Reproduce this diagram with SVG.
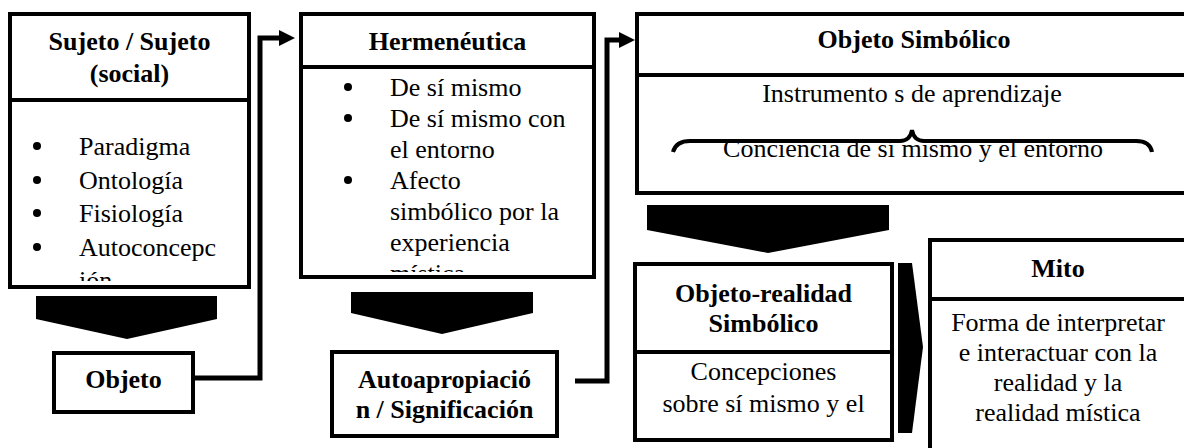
<svg xmlns="http://www.w3.org/2000/svg" width="1184" height="448" viewBox="0 0 1184 448">
<style>
.box{fill:#fff;stroke:#000;stroke-width:4}
.div{stroke:#000;stroke-width:4}
.h{font-family:"Liberation Serif","Times New Roman",serif;font-size:26px;font-weight:bold;fill:#000;text-anchor:middle}
.t{font-family:"Liberation Serif","Times New Roman",serif;font-size:26px;fill:#000}
.c{text-anchor:middle}
.conn{fill:none;stroke:#000;stroke-width:5;stroke-linejoin:miter}
.chev{fill:#000}
.brace{fill:none;stroke:#000;stroke-width:4}
</style>
<defs>
<marker id="arr" markerUnits="userSpaceOnUse" markerWidth="16" markerHeight="16" viewBox="0 0 16 16" refX="0" refY="8" orient="auto">
<path d="M0,0 L16,8 L0,16 z" fill="#000"/>
</marker>
<clipPath id="clip1"><rect x="12" y="102" width="235" height="179"/></clipPath>
<clipPath id="clip2"><rect x="303" y="69" width="289" height="203"/></clipPath>
</defs>
<g id="connectors">
<path class="conn" d="M195,378 H260 V38 H279" marker-end="url(#arr)"/>
<path class="conn" d="M575,381 H607 V40 H619" marker-end="url(#arr)"/>
</g>
<g id="sujeto">
<rect class="box" x="10" y="14" width="239" height="273"/>
<line class="div" x1="10" y1="100" x2="249" y2="100"/>
<text class="h" x="129.5" y="50">Sujeto / Sujeto</text>
<text class="h" x="129.5" y="82">(social)</text>
<g clip-path="url(#clip1)">
<circle cx="37" cy="146" r="4"/><text class="t" x="79" y="155">Paradigma</text>
<circle cx="37" cy="180" r="4"/><text class="t" x="79" y="189">Ontología</text>
<circle cx="37" cy="213" r="4"/><text class="t" x="79" y="222">Fisiología</text>
<circle cx="37" cy="247" r="4"/><text class="t" x="79" y="256">Autoconcepc</text>
<text class="t" x="79" y="289">ión</text>
</g>
</g>
<g id="chev1"><polygon class="chev" points="36,296 217,296 217,319 127,339 36,319"/></g>
<g id="objeto">
<rect class="box" x="54" y="353" width="139" height="59"/>
<text class="h" x="123.5" y="388">Objeto</text>
</g>
<g id="hermeneutica">
<rect class="box" x="301" y="14" width="293" height="263"/>
<line class="div" x1="301" y1="67" x2="594" y2="67"/>
<text class="h" x="447.5" y="50">Hermenéutica</text>
<g clip-path="url(#clip2)">
<circle cx="348" cy="87" r="4"/><text class="t" x="390" y="96">De sí mismo</text>
<circle cx="348" cy="118" r="4"/><text class="t" x="390" y="127">De sí mismo con</text>
<text class="t" x="390" y="158">el entorno</text>
<circle cx="348" cy="180" r="4"/><text class="t" x="390" y="189">Afecto</text>
<text class="t" x="390" y="220">simbólico por la</text>
<text class="t" x="390" y="251">experiencia</text>
<text class="t" x="390" y="282">mística</text>
</g>
</g>
<g id="chev2"><polygon class="chev" points="351,292 533,292 533,313 442,334 351,313"/></g>
<g id="autoapropiacion">
<rect class="box" x="332" y="352" width="225" height="84"/>
<text class="h" x="444.5" y="388">Autoapropiació</text>
<text class="h" x="444.5" y="418">n / Significación</text>
</g>
<g id="objeto-simbolico">
<rect class="box" x="637" y="14" width="554" height="179"/>
<line class="div" x1="637" y1="75" x2="1191" y2="75"/>
<text class="h" x="914" y="48">Objeto Simbólico</text>
<text class="t c" x="912" y="102">Instrumento s de aprendizaje</text>
<text class="t c" x="913" y="157">Conciencia de sí mismo y el entorno</text>
<path class="brace" d="M673,152 Q676,141 690,141 L900,141 Q910,141 912,130 Q914,141 924,141 L1136,141 Q1150,141 1152,152"/>
</g>
<g id="chev3"><polygon class="chev" points="647,205 889,205 889,230 768,253 647,230"/></g>
<g id="objeto-realidad">
<rect class="box" x="635" y="264" width="257" height="176"/>
<line class="div" x1="635" y1="352" x2="892" y2="352"/>
<text class="h" x="763.5" y="302">Objeto-realidad</text>
<text class="h" x="763.5" y="332">Simbólico</text>
<text class="t c" x="763.5" y="380">Concepciones</text>
<text class="t c" x="763.5" y="412">sobre sí mismo y el</text>
</g>
<g id="chev4"><polygon class="chev" points="898,263 912,263 923,347 912,433 898,433"/></g>
<g id="mito">
<rect class="box" x="930" y="240" width="258" height="250"/>
<line class="div" x1="930" y1="299" x2="1188" y2="299"/>
<text class="h" x="1058" y="277">Mito</text>
<text class="t c" x="1058" y="331">Forma de interpretar</text>
<text class="t c" x="1058" y="361">e interactuar con la</text>
<text class="t c" x="1058" y="391">realidad y la</text>
<text class="t c" x="1058" y="421">realidad mística</text>
</g>
</svg>
